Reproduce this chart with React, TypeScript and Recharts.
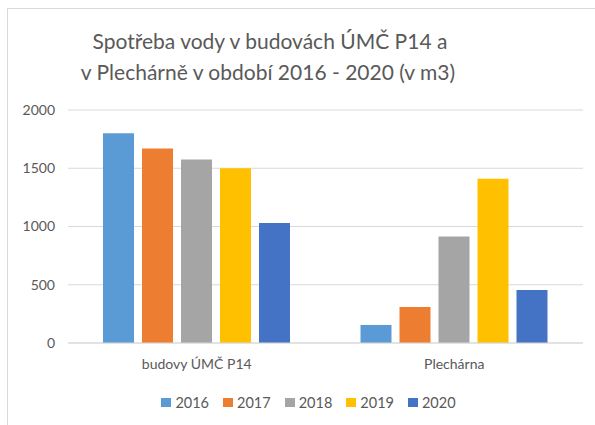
import { Bar, BarChart, CartesianGrid, Legend, XAxis, YAxis } from "recharts";

const categories = ["budovy ÚMČ P14", "Plechárna"];
const years = ["2016", "2017", "2018", "2019", "2020"];
const values2016 = [1800, 155];
const values2017 = [1670, 310];
const values2018 = [1575, 915];
const values2019 = [1500, 1410];
const values2020 = [1030, 455];
const yTicks = [0, 500, 1000, 1500, 2000];
const titleLines = ["Spotřeba vody v budovách ÚMČ P14 a", "v Plechárně v období 2016 - 2020 (v m3)"];

const colors = ["#5B9BD5", "#ED7D31", "#A5A5A5", "#FFC000", "#4472C4"];
const seriesValues = [values2016, values2017, values2018, values2019, values2020];

const data = categories.map((name, i) => {
  const row: Record<string, string | number> = { name };
  years.forEach((y, j) => {
    row[y] = seriesValues[j][i];
  });
  return row;
});

const font = "Lato, 'Open Sans', sans-serif";
const textColor = "#595959";

function LegendContent() {
  return (
    <div
      style={{
        display: "flex",
        justifyContent: "center",
        gap: 14,
        paddingLeft: 26,
        fontFamily: font,
        fontSize: 14.5,
        color: textColor,
      }}
    >
      {years.map((y, i) => (
        <span key={y} style={{ display: "flex", alignItems: "center" }}>
          <span style={{ width: 10, height: 9, background: colors[i], marginRight: 4 }} />
          {y}
        </span>
      ))}
    </div>
  );
}

export default function App() {
  return (
    <div style={{ position: "fixed", left: 0, top: 0, width: 595, height: 425, background: "#fff", overflow: "hidden" }}>
      <div
        style={{
          position: "absolute",
          left: 7,
          top: 8,
          width: 620,
          height: 440,
          border: "1px solid #d9d9d9",
        }}
      />
      <BarChart
        width={595}
        height={425}
        data={data}
        margin={{ top: 110, right: 12, left: 8, bottom: 14 }}
        barCategoryGap={35}
        barGap={8}
        style={{ position: "absolute", left: 0, top: 0 }}
      >
        <text x={270} y={49} textAnchor="middle" fontFamily={font} fontSize={21} fill={textColor}>
          {titleLines[0]}
        </text>
        <text x={268} y={80} textAnchor="middle" fontFamily={font} fontSize={21} fill={textColor}>
          {titleLines[1]}
        </text>
        <CartesianGrid stroke="#d9d9d9" vertical={false} />
        <XAxis
          dataKey="name"
          axisLine={{ stroke: "#d9d9d9" }}
          tickLine={false}
          height={51}
          tickMargin={10}
          tick={{ fill: textColor, fontSize: 14, fontFamily: font }}
        />
        <YAxis
          domain={[0, 2000]}
          ticks={yTicks}
          axisLine={false}
          tickLine={false}
          width={60}
          tickMargin={7}
          tick={{ fill: textColor, fontSize: 14, fontFamily: font }}
        />
        <Legend verticalAlign="bottom" content={<LegendContent />} />
        {years.map((y, i) => (
          <Bar key={y} dataKey={y} fill={colors[i]} isAnimationActive={false} />
        ))}
      </BarChart>
    </div>
  );
}
